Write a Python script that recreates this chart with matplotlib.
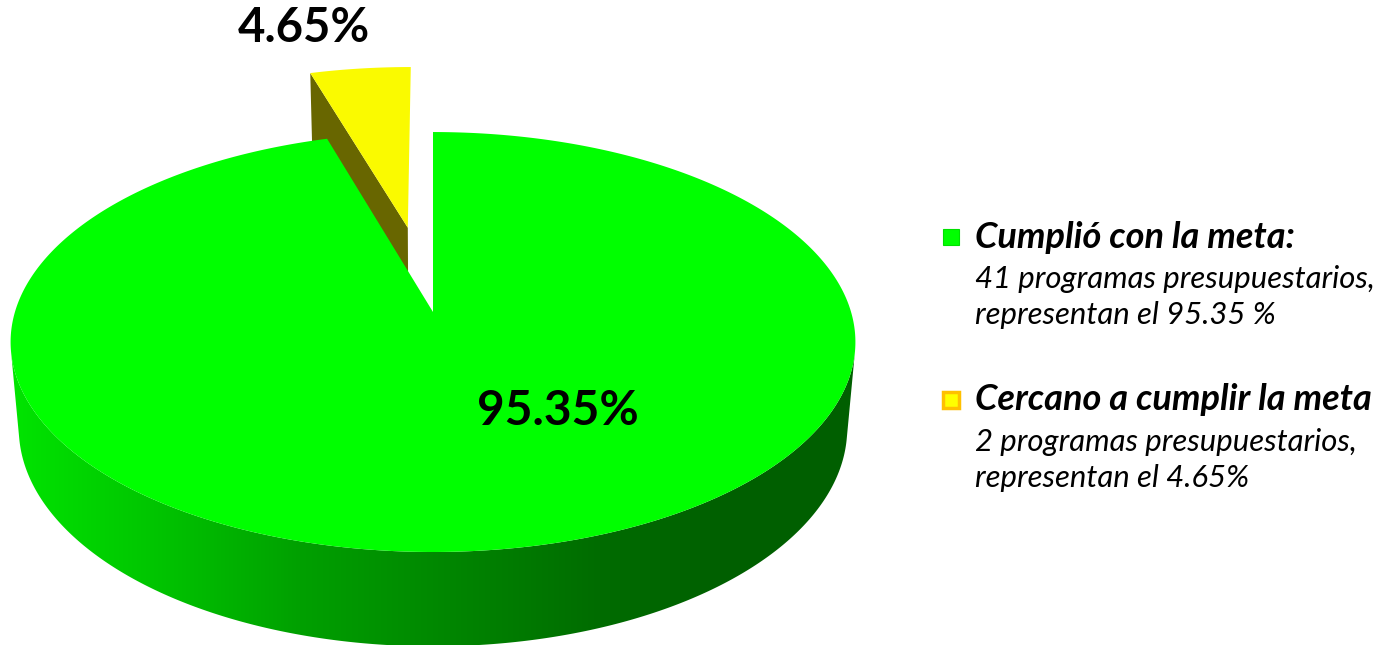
import numpy as np
import matplotlib.pyplot as plt
from matplotlib.patches import Polygon

# data
shares = [95.35, 4.65]
slice_labels = ["95.35%", "4.65%"]
explode = [0.0, 0.44]
legend_titles = ["Cumplió con la meta:", "Cercano a cumplir la meta"]
legend_lines = [
    "41 programas presupuestarios,\nrepresentan el 95.35 %",
    "2 programas presupuestarios,\nrepresentan el 4.65%",
]

# style
top_colors = ["#00FF00", "#FAFA00"]
cut_colors = ["#006400", "#686600"]
marker_face = ["#00FF00", "#FFFF00"]
marker_edge = ["#00E000", "#FFC000"]

# fake 3d camera (pixel space)
phi = np.arcsin(0.492)
D = 6.09
F = 2546.0
H = 0.24
cx, cy = 433.0, 312.0


def project(x, z, h):
    yc = h * np.cos(phi) + z * np.sin(phi)
    zc = D - h * np.sin(phi) + z * np.cos(phi)
    return cx + F * x / zc, cy - F * yc / zc


fig = plt.figure(figsize=(13.93, 6.45), dpi=100)
ax = fig.add_axes([0, 0, 1, 1])
ax.set_xlim(0, 1393)
ax.set_ylim(645, 0)
ax.axis("off")

# slice angles, clockwise from 12 o'clock
fr = np.array(shares) / sum(shares)
ends = 90 - 360 * np.cumsum(fr)
starts = np.concatenate([[90], ends[:-1]])

# exploded slice (drawn first, it is at the back)
i = 1
t = np.radians(np.linspace(starts[i], ends[i], 60))
mid = np.radians((starts[i] + ends[i]) / 2)
ox, oz = explode[i] * np.cos(mid), explode[i] * np.sin(mid)
ta = t[0]
face = [
    project(ox, oz, 0),
    project(ox + np.cos(ta), oz + np.sin(ta), 0),
    project(ox + np.cos(ta), oz + np.sin(ta), -H),
    project(ox, oz, -H),
]
ax.add_patch(Polygon(face, closed=True, fc=cut_colors[i], ec="none"))
px, py = project(ox + np.cos(t), oz + np.sin(t), 0)
ax0x, ax0y = project(ox, oz, 0)
top = np.column_stack([np.r_[ax0x, px], np.r_[ax0y, py]])
ax.add_patch(Polygon(top, closed=True, fc=top_colors[i], ec="none"))

# main slice: visible front wall with a left-to-right shading
i = 0
sil = np.degrees(np.arcsin(1 / (D * np.cos(phi))))
ts = np.radians(np.linspace(180 + sil, 360 - sil, 400))
sx, sy = project(np.cos(ts), np.sin(ts), 0)
bx, by = project(np.cos(ts), np.sin(ts), -H)
wall = Polygon(np.column_stack([np.r_[sx, bx[::-1]], np.r_[sy, by[::-1]]]),
               closed=True, fc="none", ec="none")
ax.add_patch(wall)
gx = np.linspace(0, 870, 600)
g = np.interp(gx, [13, 150, 300, 450, 600, 720, 860],
              [228, 198, 160, 134, 108, 96, 95]) / 255
grad = np.zeros((1, len(gx), 3))
grad[0, :, 1] = g
im = ax.imshow(grad, extent=[0, 870, 645, 100], aspect="auto",
               interpolation="bilinear", zorder=1)
im.set_clip_path(wall)

t = np.radians(np.linspace(starts[i], ends[i], 900))
tx, ty = project(np.cos(t), np.sin(t), 0)
top = np.column_stack([np.r_[cx, tx], np.r_[cy, ty]])
ax.add_patch(Polygon(top, closed=True, fc=top_colors[i], ec="none", zorder=2))
ax.set_xlim(0, 1393)
ax.set_ylim(645, 0)

# labels
ax.text(558, 411, slice_labels[0], ha="center", va="center",
        fontsize=34.5, fontweight="bold", family="Lato", zorder=3)
ax.text(304, 28, slice_labels[1], ha="center", va="center",
        fontsize=34, fontweight="bold", family="Lato", zorder=3)

# legend
legend_y = [237, 400]
for k in range(2):
    ax.plot(951, legend_y[k], marker="s", ms=12, mfc=marker_face[k],
            mec=marker_edge[k], mew=2.5 if k else 0.8)
    ax.text(975, legend_y[k], legend_titles[k], ha="left", va="center",
            fontsize=26, fontweight="bold", style="italic", family="Lato")
    ax.text(975, legend_y[k] + 28, legend_lines[k], ha="left", va="top",
            fontsize=22.4, style="italic", family="Lato", linespacing=1.36)

fig.savefig("out.png", dpi=100)
